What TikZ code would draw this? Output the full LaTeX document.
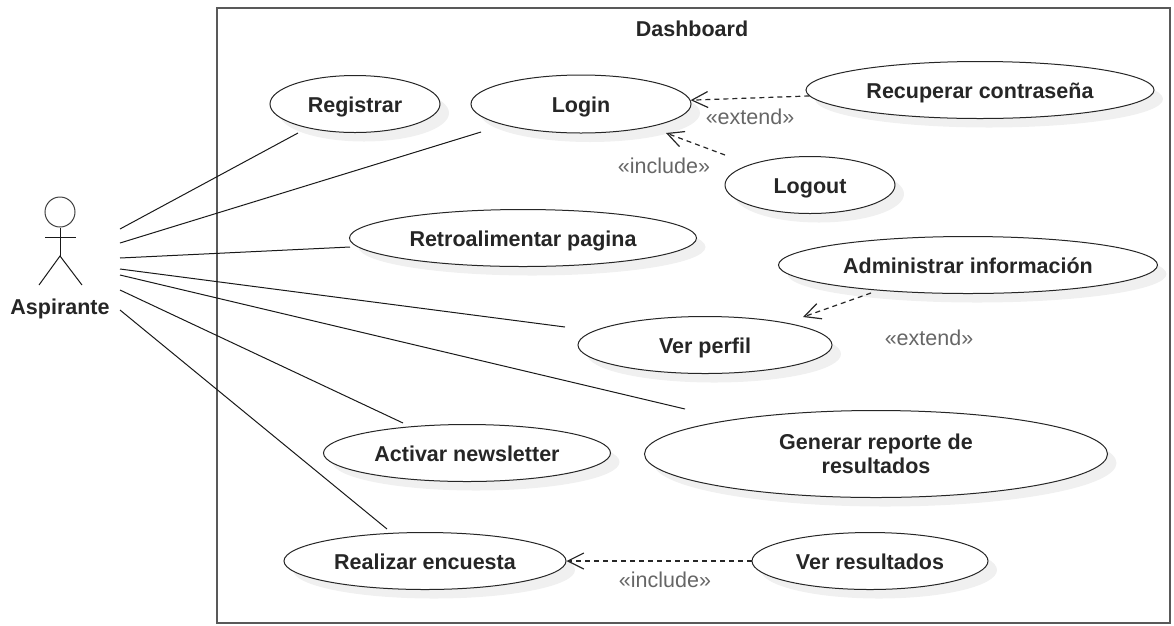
\documentclass[tikz,border=0pt]{standalone}
\usepackage{fontspec}
\setmainfont{Liberation Sans}
\usetikzlibrary{shapes.geometric, shadows, arrows.meta}

\tikzset{
  usecase/.style={draw=black!85, ellipse, line width=1pt, fill=white, inner sep=0pt, align=center,
    minimum height=57pt, text height=21pt, text depth=4pt, font=\fontsize{21.5}{24}\selectfont\bfseries\color{black!85},
    drop shadow={shadow xshift=9pt, shadow yshift=-9pt, fill=black!6, opacity=1}},
  stereotype/.style={text=black!60, font=\fontsize{21.5}{24}\selectfont},
  assoc/.style={draw=black!90, line width=1pt},
  dep/.style={draw=black!85, line width=1.2pt, dashed, dash pattern=on 5pt off 4pt,
    -{Straight Barb[length=16pt, width=16pt, line width=1.2pt]}}
}

\begin{document}
\begin{tikzpicture}[x=1pt, y=-1pt]
    \useasboundingbox (0,0) rectangle (1174,625);
    \node (frame) [draw=black!65, line width=1.5pt, rectangle, minimum width=953pt, minimum height=615pt] at (693.5,315.5) {};
    \node (title) [font=\fontsize{21.5}{24}\selectfont\bfseries, text=black!85] at (692,29) {Dashboard};

    % use cases
    \node (registrar) [usecase, minimum width=170pt] at (355,104) {Registrar};
    \node (login) [usecase, minimum width=220pt, minimum height=58pt] at (581,104) {Login};
    \node (recuperar) [usecase, minimum width=348pt] at (980,90) {Recuperar contraseña};
    \node (logout) [usecase, minimum width=170pt] at (810,185) {Logout};
    \node (retro) [usecase, minimum width=347pt] at (523,238) {Retroalimentar pagina};
    \node (admin) [usecase, minimum width=379pt] at (968,265) {Administrar información};
    \node (perfil) [usecase, minimum width=254pt] at (705,345) {Ver perfil};
    \node (newsletter) [usecase, minimum width=287pt] at (467,453) {Activar newsletter};
    \node (reporte) [usecase, minimum width=463pt, minimum height=87pt, text height=, text depth=] at (876,454) {Generar reporte de\\resultados};
    \node (encuesta) [usecase, minimum width=282pt] at (425,561) {Realizar encuesta};
    \node (resultados) [usecase, minimum width=236pt] at (870,561) {Ver resultados};

    % actor
    \node (head) [draw=black!75, line width=1pt, circle, inner sep=0pt, minimum size=30pt] at (60,212) {};
    \coordinate (armleft) at (45,237);
    \coordinate (armright) at (76,237);
    \coordinate (hip) at (60,256);
    \coordinate (footleft) at (39,285);
    \coordinate (footright) at (82,285);
    \node (aspirante) [font=\fontsize{21.5}{24}\selectfont\bfseries, text=black!85] at (60,309) {Aspirante};
    \draw[assoc] (head) -- (hip);
    \draw[assoc] (armleft) -- (armright);
    \draw[assoc] (footleft) -- (hip) -- (footright);

    % free ends of the lines
    \coordinate (a1) at (120,229);
    \coordinate (a2) at (120,243);
    \coordinate (a3) at (120,258);
    \coordinate (a4) at (120,269);
    \coordinate (a5) at (120,275);
    \coordinate (a6) at (120,290);
    \coordinate (a7) at (120,310);
    \coordinate (b1) at (298,133);
    \coordinate (b2) at (481,132);
    \coordinate (b3) at (350,247);
    \coordinate (b4) at (565,327);
    \coordinate (b5) at (685,409);
    \coordinate (b6) at (403,423);
    \coordinate (b7) at (387,529);
    \draw[assoc] (a1) -- (b1);
    \draw[assoc] (a2) -- (b2);
    \draw[assoc] (a3) -- (b3);
    \draw[assoc] (a4) -- (b4);
    \draw[assoc] (a5) -- (b5);
    \draw[assoc] (a6) -- (b6);
    \draw[assoc] (a7) -- (b7);

    % dependencies
    \coordinate (logoutend) at (725,155);
    \coordinate (loginend) at (666,133);
    \coordinate (adminend) at (871,293);
    \coordinate (perfilend) at (803,317);
    \draw[dep] (recuperar.182) -- (login.2);
    \draw[dep] (logoutend) -- (loginend);
    \draw[dep] (adminend) -- (perfilend);
    \draw[dep] (resultados.west) -- (encuesta.east);

    \node (extendone) [stereotype] at (750,117) {«extend»};
    \node (includeone) [stereotype] at (664,166) {«include»};
    \node (extendtwo) [stereotype] at (929,338) {«extend»};
    \node (includetwo) [stereotype] at (665,580) {«include»};
\end{tikzpicture}
\end{document}
